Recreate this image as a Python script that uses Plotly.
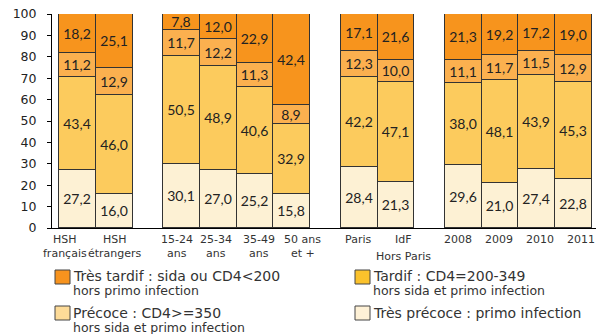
import plotly.graph_objects as go

# ---- data ----
categories_line1 = ["HSH", "HSH", "15-24", "25-34", "35-49", "50 ans",
                    "Paris", "IdF", "2008", "2009", "2010", "2011"]
categories_line2 = ["français", "étrangers", "ans", "ans", "ans", "et +",
                    "", "Hors Paris", "", "", "", ""]
group_sizes = [2, 4, 2, 4]

tres_precoce = [27.2, 16.0, 30.1, 27.0, 25.2, 15.8, 28.4, 21.3, 29.6, 21.0, 27.4, 22.8]
precoce      = [43.4, 46.0, 50.5, 48.9, 40.6, 32.9, 42.2, 47.1, 38.0, 48.1, 43.9, 45.3]
tardif       = [11.2, 12.9, 11.7, 12.2, 11.3, 8.9, 12.3, 10.0, 11.1, 11.7, 11.5, 12.9]
tres_tardif  = [18.2, 25.1, 7.8, 12.0, 22.9, 42.4, 17.1, 21.6, 21.3, 19.2, 17.2, 19.0]

legend_main = ["Très tardif : sida ou CD4<200", "Tardif : CD4=200-349",
               "Précoce : CD4>=350", "Très précoce : primo infection"]
legend_sub = ["hors primo infection", "hors sida et primo infection",
              "hors sida et primo infection", ""]

# ---- styles ----
bar_colors = {"tp": "#FDF1D4", "p": "#FCCB5D", "t": "#FBB04F", "tt": "#F7941D"}
legend_colors = ["#F7931E", "#FBC22C", "#FDDB98", "#FEF1D6"]
label_dx_px = [-12, 1, -4, -2, 4, 11, -1, 8, -5, -1, 3, 7.5]
GAP = 0.83
W, H = 596, 334
ML, MR, MT, MB = 52, 0, 14, 106
SANS = "DejaVu Sans"

# x positions from group structure
xs = []
pos = 0.0
for n in group_sizes:
    for _ in range(n):
        xs.append(pos)
        pos += 1
    pos += GAP

fig = go.Figure()
series = [(tres_precoce, bar_colors["tp"]), (precoce, bar_colors["p"]),
          (tardif, bar_colors["t"]), (tres_tardif, bar_colors["tt"])]
for vals, col in series:
    fig.add_trace(go.Bar(
        x=xs, y=vals, width=1,
        marker=dict(color=col, line=dict(color="#333333", width=1)),
        text=[f"{v:.1f}".replace(".", ",") for v in vals],
        textposition="inside", insidetextanchor="middle", textangle=0,
        constraintext="none",
        textfont=dict(family="Lato", size=14, color="#222222"),
        showlegend=False, hoverinfo="skip",
    ))

xmin = xs[0] - 0.5 - 0.19
xmax = xs[-1] + 0.5 + 0.11
unit_px = (W - ML - MR) / (xmax - xmin)

# x labels as annotations
lab_font = dict(family=SANS, size=11, color="#333333")
for i, x in enumerate(xs):
    xl = x + label_dx_px[i] / unit_px
    fig.add_annotation(x=xl, y=0, xref="x", yref="paper", yanchor="middle",
                       yshift=-11, text=categories_line1[i], showarrow=False,
                       borderpad=0, font=lab_font)
    if categories_line2[i]:
        extra = -3 if categories_line1[i] == "IdF" else 0
        fig.add_annotation(x=xl, y=0, xref="x", yref="paper", yanchor="middle",
                           yshift=-25.5 + extra, text=categories_line2[i], showarrow=False,
                           borderpad=0, font=lab_font)

# manual legend
plot_h = H - MT - MB
def py(pix):
    return (H - MB - pix) / plot_h
def px(pix):
    return (pix - ML) / (W - ML - MR)

leg_x = [55, 355]
leg_rows = [(270, 276, 290), (306, 313, 327)]
for k in range(4):
    col_i = k % 2
    row_i = k // 2
    sx = leg_x[col_i]
    sy0, ty, sty = leg_rows[row_i]
    fig.add_shape(type="rect", xref="paper", yref="paper",
                  x0=px(sx), x1=px(sx + 15), y0=py(sy0 + 14), y1=py(sy0),
                  fillcolor=legend_colors[k], line=dict(color="#444444", width=1))
    fig.add_annotation(x=px(sx + 17), y=py(ty), xref="paper", yref="paper",
                       xanchor="left", yanchor="middle", text=legend_main[k],
                       showarrow=False, borderpad=0,
                       font=dict(family=SANS, size=14, color="#333333"))
    if legend_sub[k]:
        fig.add_annotation(x=px(sx + 17), y=py(sty), xref="paper", yref="paper",
                           xanchor="left", yanchor="middle", text=legend_sub[k],
                           showarrow=False, borderpad=0,
                           font=dict(family=SANS, size=12.5, color="#333333"))

fig.update_layout(
    width=W, height=H, margin=dict(l=ML, r=MR, t=MT, b=MB),
    barmode="stack", bargap=0,
    plot_bgcolor="white", paper_bgcolor="white",
    xaxis=dict(range=[xmin, xmax], showline=True, linecolor="#000000", linewidth=1,
               showticklabels=False, ticks="", showgrid=False, zeroline=False),
    yaxis=dict(range=[0, 100], dtick=10, tick0=0, showline=True, linecolor="#000000",
               linewidth=1, ticks="outside", ticklen=4, tickcolor="#000000",
               showgrid=False, zeroline=False, ticklabelstandoff=8,
               tickfont=dict(family=SANS, size=12.5, color="#222222")),
)

fig.write_html("out.html")
